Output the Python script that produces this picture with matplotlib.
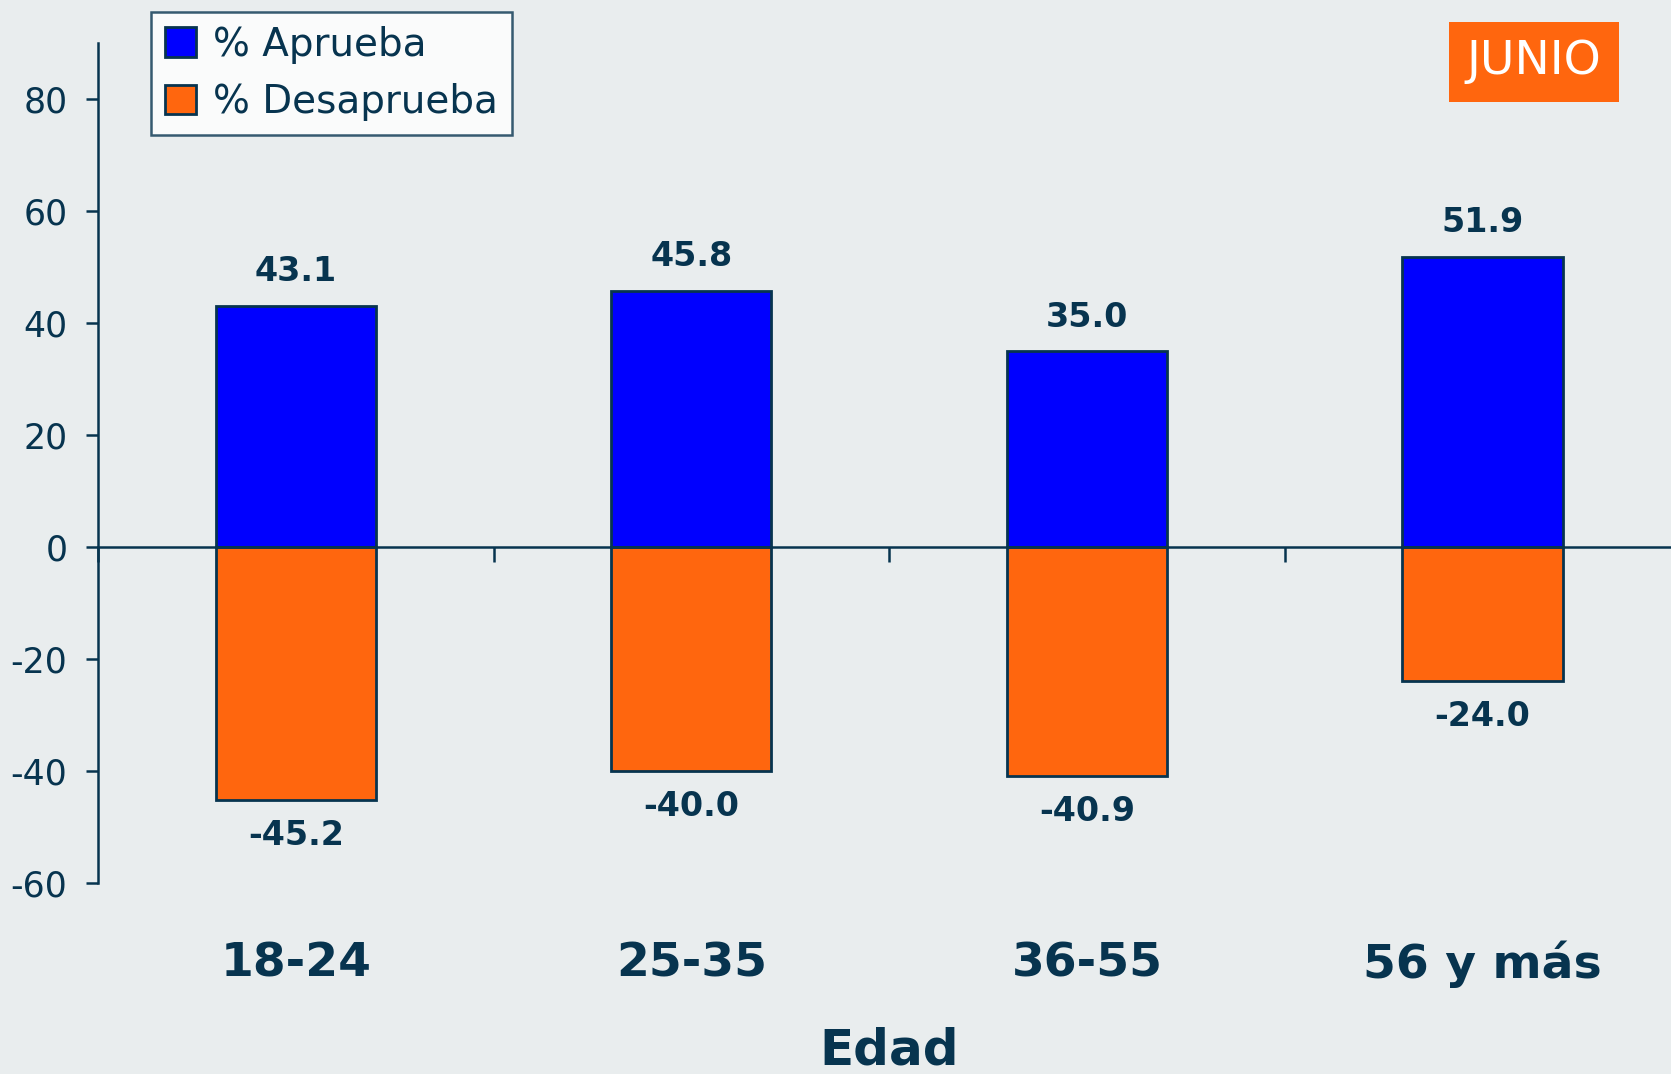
import matplotlib.pyplot as plt

grupos = ['18-24', '25-35', '36-55', '56 y más']
aprueba = [43.1, 45.8, 35.0, 51.9]
desaprueba = [-45.2, -40.0, -40.9, -24.0]

navy = '#07344f'
bg = '#e9edee'
azul = '#0000ff'
naranja = '#ff660e'

plt.rcParams['font.family'] = ['DejaVu Sans']
plt.rcParams['axes.unicode_minus'] = False

fig = plt.figure(figsize=(16.71, 10.74), dpi=100, facecolor=bg)
ax = fig.add_axes([0.0586, 0.1778, 0.947, 0.782])
ax.set_facecolor(bg)

x = range(len(grupos))
ax.bar(x, aprueba, width=0.405, color=azul, edgecolor=navy, linewidth=2, label='% Aprueba')
ax.bar(x, desaprueba, width=0.405, color=naranja, edgecolor=navy, linewidth=2, label='% Desaprueba')

for i in x:
    ax.annotate(f'{aprueba[i]:.1f}', (i, aprueba[i]), xytext=(0, 34), textcoords='offset pixels',
                ha='center', va='center', fontsize=24, fontweight='bold', color=navy)
    ax.annotate(f'{desaprueba[i]:.1f}', (i, desaprueba[i]), xytext=(0, -35), textcoords='offset pixels',
                ha='center', va='center', fontsize=24, fontweight='bold', color=navy)
    ax.annotate(grupos[i], (i, 0), xycoords=('data', 'axes fraction'), xytext=(0, -81),
                textcoords='offset pixels', ha='center', va='center', fontsize=34,
                fontweight='bold', color=navy)

ax.set_xlim(-0.5, 3.5)
ax.set_ylim(-60, 90)
ax.set_yticks([-60, -40, -20, 0, 20, 40, 60, 80])
ax.set_xticks([-0.5, 0.5, 1.5, 2.5])
ax.set_xticklabels([])

for s in ['top', 'right']:
    ax.spines[s].set_visible(False)
ax.spines['bottom'].set_position(('data', 0))
ax.spines['bottom'].set_color(navy)
ax.spines['bottom'].set_linewidth(1.8)
ax.spines['left'].set_color(navy)
ax.spines['left'].set_linewidth(1.8)
ax.spines['left'].set_bounds(-60, 90)

ax.tick_params(axis='y', colors=navy, labelsize=25, length=9, width=1.8, pad=13)
ax.tick_params(axis='x', colors=navy, length=11, width=1.8, direction='out')

ax.annotate('Edad', (0.5, 0), xycoords='axes fraction', xytext=(0, -167),
            textcoords='offset pixels', ha='center', va='center', fontsize=36,
            fontweight='bold', color=navy)

leg = fig.legend(loc='upper left', bbox_to_anchor=(151 / 1671, 1 - 12 / 1074), fontsize=28,
                 frameon=True, fancybox=False, labelcolor=navy, handlelength=0.8,
                 handleheight=0.8, handletextpad=0.45, borderpad=0.35, labelspacing=0.5,
                 borderaxespad=0)
leg.get_frame().set_edgecolor(navy)
leg.get_frame().set_linewidth(1.8)
leg.get_frame().set_facecolor('white')

fig.text(1534 / 1671, 1 - 62 / 1074, 'JUNIO', ha='center', va='center', fontsize=34,
         color='white', bbox=dict(boxstyle='square,pad=0.38', facecolor=naranja, edgecolor='none'))

fig.savefig('out.png', dpi=100, facecolor=bg)
